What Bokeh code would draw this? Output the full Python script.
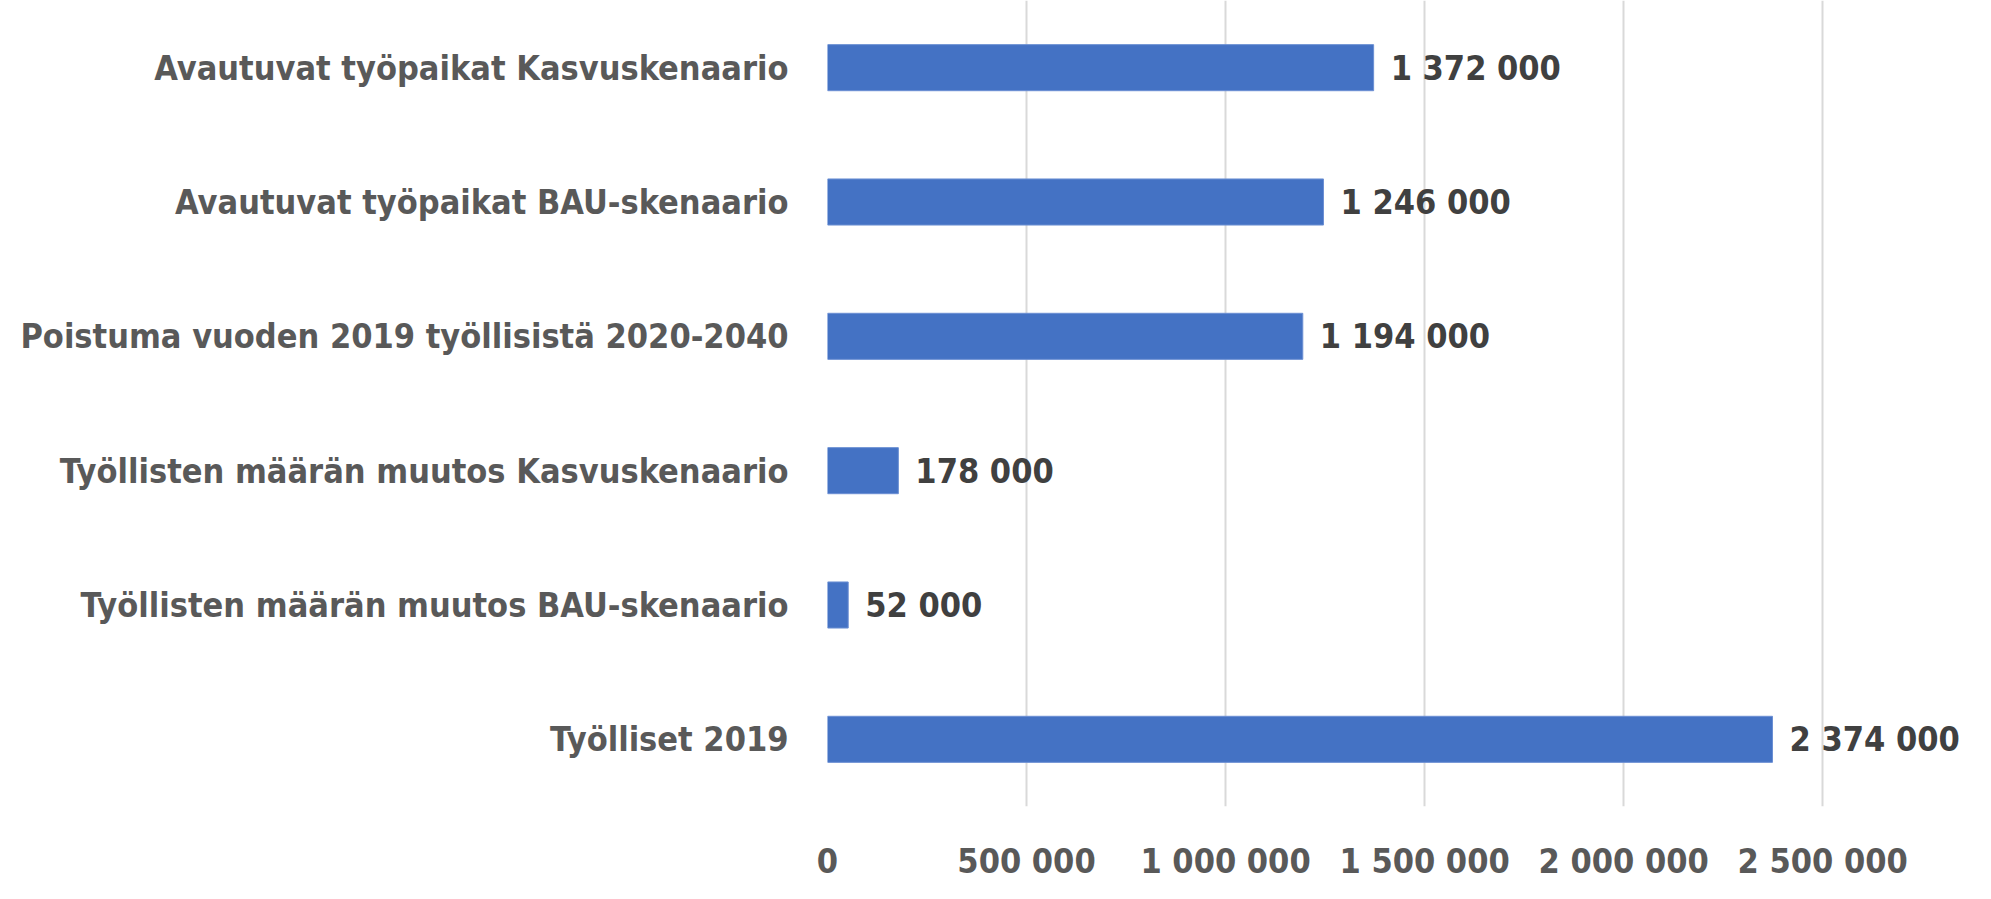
from bokeh.plotting import figure
from bokeh.models import FactorRange, Range1d, FixedTicker, ColumnDataSource
from bokeh.core.properties import value
from bokeh.embed import file_html
from bokeh.resources import INLINE

# categories from bottom to top
categories = [
    "Työlliset 2019",
    "Työllisten määrän muutos BAU-skenaario",
    "Työllisten määrän muutos Kasvuskenaario",
    "Poistuma vuoden 2019 työllisistä 2020-2040",
    "Avautuvat työpaikat BAU-skenaario",
    "Avautuvat työpaikat Kasvuskenaario",
]
values = [2374000, 52000, 178000, 1194000, 1246000, 1372000]
tick_values = [0, 500000, 1000000, 1500000, 2000000, 2500000]


def fmt(v):
    return f"{v:,}".replace(",", " ")


FONT = "DejaVu Sans Condensed, Liberation Sans Narrow, Roboto"
FS = "34px"

src = ColumnDataSource(dict(cat=categories, val=values, lab=[fmt(v) for v in values]))

p = figure(
    width=1975, height=883,
    y_range=FactorRange(factors=categories),
    x_range=Range1d(0, 2884000),
    output_backend="svg", toolbar_location=None,
    min_border_left=827, min_border_top=0, min_border_bottom=63, min_border_right=0,
)
p.outline_line_color = None
p.background_fill_color = "white"
p.border_fill_color = "white"

p.hbar(y="cat", right="val", height=0.343, source=src,
       fill_color="#4472C4", line_color="#6b8fd3", line_width=1)

p.text(x="val", y="cat", text="lab", source=src, x_offset=17,
       text_baseline="middle", text_align="left",
       text_font=value(FONT), text_font_size=FS, text_font_style="bold",
       text_color="#404040")

# x axis
p.xaxis.ticker = FixedTicker(ticks=tick_values)
p.xaxis.major_label_overrides = {t: fmt(t) for t in tick_values}
p.xaxis.axis_line_color = None
p.xaxis.major_tick_line_color = None
p.xaxis.minor_tick_line_color = None
p.xaxis.major_tick_out = 0
p.xaxis.major_label_standoff = 34
p.xaxis.major_label_text_font = FONT
p.xaxis.major_label_text_font_size = FS
p.xaxis.major_label_text_font_style = "bold"
p.xaxis.major_label_text_color = "#595959"

# y axis
p.yaxis.axis_line_color = None
p.yaxis.major_tick_line_color = None
p.yaxis.minor_tick_line_color = None
p.yaxis.major_tick_out = 0
p.yaxis.major_label_standoff = 39
p.yaxis.major_label_text_font = FONT
p.yaxis.major_label_text_font_size = FS
p.yaxis.major_label_text_font_style = "bold"
p.yaxis.major_label_text_color = "#595959"

p.ygrid.grid_line_color = None
p.xgrid.grid_line_color = "#d9d9d9"
p.xgrid.grid_line_width = 2
p.xgrid.ticker = FixedTicker(ticks=tick_values)

open("out.html", "w").write(file_html(p, INLINE))
